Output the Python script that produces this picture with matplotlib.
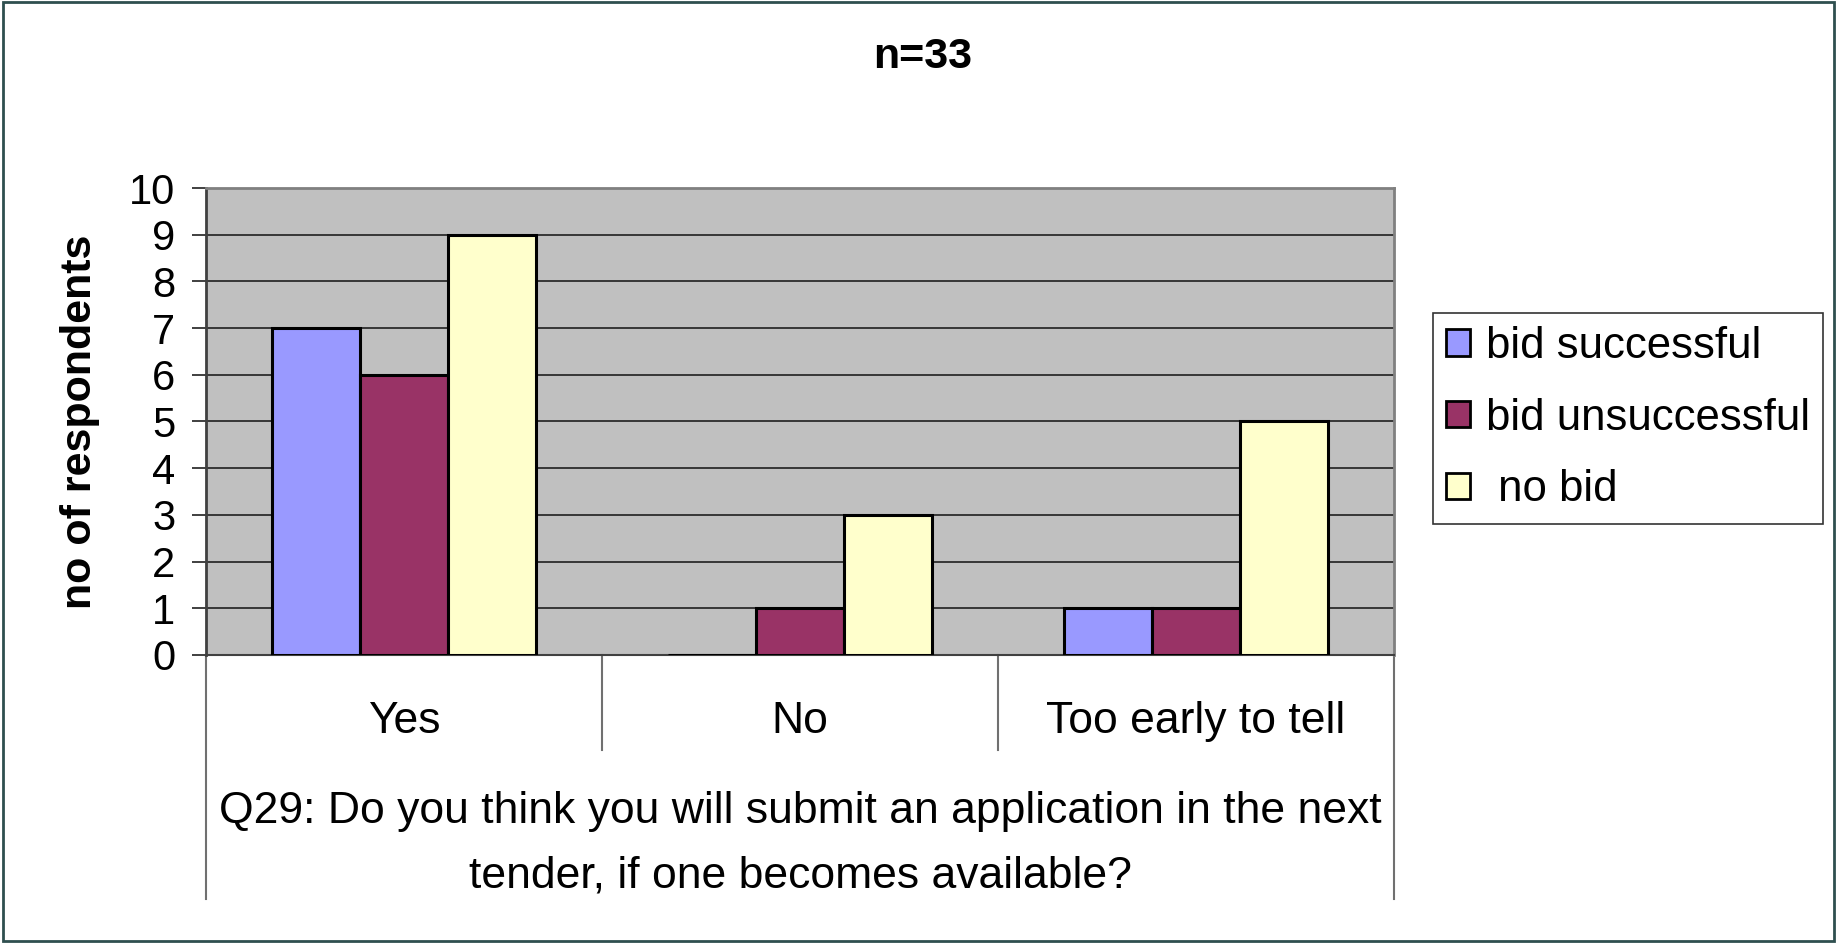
import matplotlib
matplotlib.use("Agg")
import matplotlib.pyplot as plt
import numpy as np
from matplotlib.patches import Rectangle

plt.rcParams['font.family'] = ['Liberation Sans', 'DejaVu Sans']

# data
categories = ['Yes', 'No', 'Too early to tell']
series_names = ['bid successful', 'bid unsuccessful', ' no bid']
bid_successful = [7, 0, 1]
bid_unsuccessful = [6, 1, 1]
no_bid = [9, 3, 5]
colors = ['#9999FF', '#993366', '#FFFFCC']

W, H = 1839, 943
fig = plt.figure(figsize=(W / 100, H / 100), dpi=100)

# plot area in pixels: left 206, right 1394, top 188, bottom 655
ax = fig.add_axes([206 / W, 1 - 655 / H, (1394 - 206) / W, (655 - 188) / H])
ax.set_facecolor('#C0C0C0')

x = np.arange(len(categories))
w = 1 / 4.5
for i, (vals, name) in enumerate(zip([bid_successful, bid_unsuccessful, no_bid], series_names)):
    ax.bar(x + (i - 1) * w, vals, width=w, color=colors[i], edgecolor='black',
           linewidth=2.2, label=name, zorder=3)

ax.set_xlim(-0.5, 2.5)
ax.set_ylim(0, 10)
ax.set_yticks(range(0, 11))
ax.yaxis.grid(True, color='#202020', linewidth=1.2, zorder=1)
ax.tick_params(axis='y', labelsize=30, length=10, width=1.2, pad=12, color='#202020')

ax.set_xticks(x)
ax.set_xticklabels(categories, fontsize=32)
ax.tick_params(axis='x', length=0, pad=33)

for s in ['top', 'right']:
    ax.spines[s].set_color('#808080')
    ax.spines[s].set_linewidth(2)
ax.spines['left'].set_color('#404040')
ax.spines['left'].set_linewidth(2)
ax.spines['bottom'].set_color('#404040')
ax.spines['bottom'].set_linewidth(1.5)

# category dividers below the axis
axh = 655 - 188
for xb in [-0.5, 0.5, 1.5, 2.5]:
    low = -(899 - 655) / axh if xb in (-0.5, 2.5) else -(750 - 655) / axh
    ax.plot([xb, xb], [0, low], transform=ax.get_xaxis_transform(),
            color='#707070', linewidth=1.5, clip_on=False)

ax.text(1.0, -(844 - 655) / axh,
        'Q29: Do you think you will submit an application in the next\ntender, if one becomes available?',
        transform=ax.get_xaxis_transform(), ha='center', va='center',
        fontsize=32, linespacing=1.72)

fig.text(80 / W, 1 - 422 / H, 'no of respondents', rotation=90, ha='center', va='center',
         fontsize=31, fontweight='bold')
fig.text(923 / W, 1 - 57 / H, 'n=33', ha='center', va='center', fontsize=31, fontweight='bold')

leg = fig.legend(loc='upper left', bbox_to_anchor=(1433 / W, 1 - 313 / H), fontsize=31.5,
                 frameon=True, fancybox=False, edgecolor='black', handlelength=0.55,
                 handleheight=0.55, handletextpad=0.35, labelspacing=0.7, borderpad=0.3,
                 borderaxespad=0)
leg.get_frame().set_linewidth(1.2)
for h in leg.legend_handles:
    h.set_linewidth(2)

# outer chart frame
fig.patches.append(Rectangle((3 / W, 2 / H), (W - 8) / W, (H - 4) / H, transform=fig.transFigure,
                             fill=False, edgecolor='#2F4F4F', linewidth=2))

fig.savefig('out.png', dpi=100)
